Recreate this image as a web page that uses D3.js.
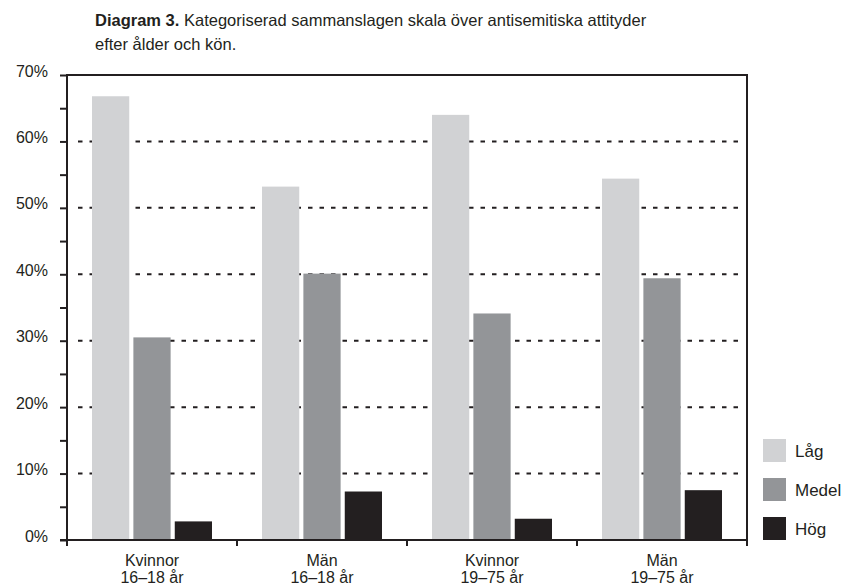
<!DOCTYPE html>
<html lang="sv">
<head>
    <meta charset="UTF-8">
    <title>Diagram 3</title>
    <style>
        body { margin: 0; background: #fff; }
        svg { font-family: "Liberation Sans", Arial, sans-serif; }
        .axis path, .axis line { stroke: #231f20; stroke-width: 2; }
        .grid line { stroke: #231f20; stroke-width: 2; stroke-dasharray: 4.5, 7; }
    </style>
</head>
<body>
<script src="https://cdn.jsdelivr.net/npm/d3@7"></script>
<script>

    var categories = [["Kvinnor", "16–18 år"], ["Män", "16–18 år"], ["Kvinnor", "19–75 år"], ["Män", "19–75 år"]];
    var series = ["Låg", "Medel", "Hög"];
    var lag = [66.8, 53.2, 64.0, 54.4];
    var medel = [30.5, 40.1, 34.1, 39.4];
    var hog = [2.8, 7.3, 3.2, 7.5];
    var yTicks = [0, 5, 10, 15, 20, 25, 30, 35, 40, 45, 50, 55, 60, 65, 70];
    var gridValues = [10, 20, 30, 40, 50, 60];
    var colors = ["#d1d2d4", "#939598", "#231f20"];

    var values = [lag, medel, hog];

    var width = 846,
        height = 587,
        plotLeft = 67,
        plotRight = 747,
        plotTop = 75,
        plotBottom = 540;

    var svg = d3.select("body").append("svg")
        .attr("width", width)
        .attr("height", height);

    var keys = categories.map(function(d, i) { return i; });

    var x = d3.scaleBand()
        .domain(keys)
        .range([plotLeft, plotRight]);

    var groupWidth = 120;
    var x1 = d3.scaleBand()
        .domain(series)
        .range([0, groupWidth])
        .paddingInner(0.1);

    var y = d3.scaleLinear()
        .domain([0, 70])
        .range([plotBottom, plotTop]);

    var color = d3.scaleOrdinal().domain(series).range(colors);

    // title
    var title = svg.append("text")
        .attr("x", 95)
        .attr("y", 26)
        .style("font-size", "16.5px")
        .attr("fill", "#231f20");
    title.append("tspan").style("font-weight", "bold").text("Diagram 3.");
    title.append("tspan").text(" Kategoriserad sammanslagen skala över antisemitiska attityder");
    svg.append("text")
        .attr("x", 95)
        .attr("y", 50)
        .style("font-size", "16.5px")
        .attr("fill", "#231f20")
        .text("efter ålder och kön.");

    // dotted grid
    svg.append("g")
        .attr("class", "grid")
        .selectAll("line")
        .data(gridValues)
        .enter().append("line")
        .attr("x1", plotLeft + 11)
        .attr("x2", plotRight - 4)
        .attr("y1", function(d) { return y(d); })
        .attr("y2", function(d) { return y(d); });

    // bars
    var rows = [];
    keys.forEach(function(k) {
        series.forEach(function(s, j) {
            rows.push({ key: k, series: s, value: values[j][k] });
        });
    });

    svg.append("g")
        .selectAll("rect")
        .data(rows)
        .enter().append("rect")
        .attr("x", function(d) { return x(d.key) + (x.bandwidth() - groupWidth) / 2 + x1(d.series); })
        .attr("y", function(d) { return y(d.value); })
        .attr("width", x1.bandwidth())
        .attr("height", function(d) { return y(0) - y(d.value); })
        .attr("fill", function(d) { return color(d.series); });

    // y axis
    var yAxis = svg.append("g")
        .attr("class", "axis")
        .attr("transform", "translate(" + plotLeft + ",0)")
        .call(d3.axisLeft(y)
            .tickValues(yTicks)
            .tickSize(7)
            .tickSizeOuter(0)
            .tickPadding(12)
            .tickFormat(function(d) { return d % 10 === 0 ? d + "%" : ""; }));
    yAxis.select(".domain").remove();
    yAxis.selectAll("text")
        .attr("dy", "1px")
        .attr("fill", "#231f20")
        .style("font-size", "16px")
        .style("font-family", "Liberation Sans, Arial, sans-serif");

    // frame and dividers
    var frame = svg.append("g").attr("class", "axis");
    frame.append("path")
        .attr("fill", "none")
        .attr("d", "M" + plotLeft + "," + (plotBottom + 6) + "V" + plotTop + "H" + plotRight + "V" + (plotBottom + 6));
    frame.append("line")
        .attr("x1", plotLeft - 7).attr("x2", plotRight)
        .attr("y1", plotBottom).attr("y2", plotBottom);
    frame.selectAll(".divider")
        .data(keys.slice(1))
        .enter().append("line")
        .attr("class", "divider")
        .attr("x1", function(d) { return x(d); })
        .attr("x2", function(d) { return x(d); })
        .attr("y1", plotBottom)
        .attr("y2", plotBottom + 6);

    // category labels
    var labels = svg.append("g")
        .selectAll("text")
        .data(keys)
        .enter().append("text")
        .attr("text-anchor", "middle")
        .attr("fill", "#231f20")
        .style("font-size", "16px");
    labels.append("tspan")
        .attr("x", function(d) { return x(d) + x.bandwidth() / 2; })
        .attr("y", 566)
        .text(function(d) { return categories[d][0]; });
    labels.append("tspan")
        .attr("x", function(d) { return x(d) + x.bandwidth() / 2; })
        .attr("y", 583)
        .text(function(d) { return categories[d][1]; });

    // legend
    var legend = svg.append("g")
        .selectAll("g")
        .data(series)
        .enter().append("g")
        .attr("transform", function(d, i) { return "translate(763," + (439 + i * 39) + ")"; });
    legend.append("rect")
        .attr("width", 23)
        .attr("height", 23)
        .attr("fill", function(d) { return color(d); });
    legend.append("text")
        .attr("x", 32)
        .attr("y", 18)
        .attr("fill", "#231f20")
        .style("font-size", "17px")
        .text(function(d) { return d; });

</script>
</body>
</html>
